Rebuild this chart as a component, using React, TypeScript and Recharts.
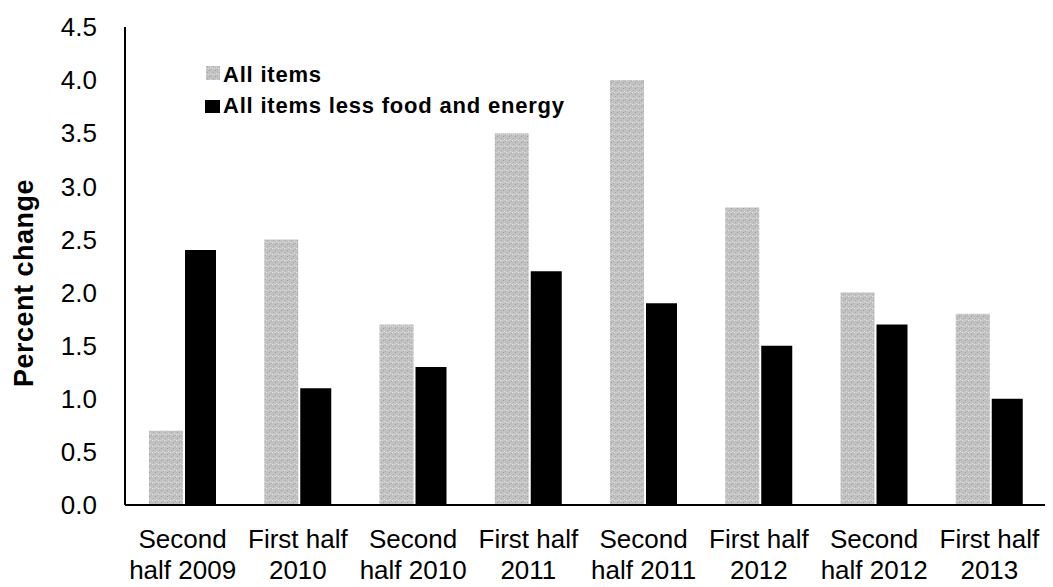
import React from "react";
import { BarChart, Bar, XAxis, YAxis } from "recharts";

const categories = [
  "Second\nhalf 2009",
  "First half\n2010",
  "Second\nhalf 2010",
  "First half\n2011",
  "Second\nhalf 2011",
  "First half\n2012",
  "Second\nhalf 2012",
  "First half\n2013",
];
const allItems = [0.7, 2.5, 1.7, 3.5, 4.0, 2.8, 2.0, 1.8];
const coreItems = [2.4, 1.1, 1.3, 2.2, 1.9, 1.5, 1.7, 1.0];
const yTicks = [0, 0.5, 1, 1.5, 2, 2.5, 3, 3.5, 4, 4.5];
const seriesNames = ["All items", "All items less food and energy"];
const yAxisTitle = "Percent change";

const data = categories.map((c, i) => ({ name: c, all: allItems[i], core: coreItems[i] }));

const FONT = "Arial, 'Liberation Sans', sans-serif";

const XTick = (props: any) => {
  const { x, y, payload } = props;
  const lines = String(payload.value).split("\n");
  return (
    <text x={x} y={y} textAnchor="middle" fontFamily={FONT} fontSize={26} fill="#000">
      {lines.map((l, i) => (
        <tspan key={i} x={x} dy={i === 0 ? 35 : 31}>{l}</tspan>
      ))}
    </text>
  );
};

const LegendBox = () => (
  <g fontFamily={FONT} fontSize={22} fontWeight="bold" fill="#000" letterSpacing={0.8}>
    <rect x={198} y={58} width={14} height={14} fill="url(#grain)" />
    <text x={215} y={74}>{seriesNames[0]}</text>
    <rect x={197} y={92} width={15} height={13} fill="#000" />
    <text x={215} y={105}>{seriesNames[1]}</text>
  </g>
);

const YTitle = () => (
  <text
    x={0}
    y={0}
    transform="translate(25,275) rotate(-90)"
    textAnchor="middle"
    fontFamily={FONT}
    fontSize={27}
    fontWeight="bold"
    letterSpacing={0.5}
    fill="#000"
  >
    {yAxisTitle}
  </text>
);

export default function App() {
  return (
    <BarChart
      width={1045}
      height={579}
      data={data}
      margin={{ top: 19, right: 6, bottom: 0, left: 37 }}
      barCategoryGap="20%"
      barGap={2}
    >
      <defs>
        <pattern id="grain" width="6" height="6" patternUnits="userSpaceOnUse">
          <rect width="6" height="6" fill="#c2c2c2" />
          <rect x="0" y="0" width="1" height="1" fill="#e8e8e8" />
          <rect x="3" y="2" width="1" height="1" fill="#999" />
          <rect x="1" y="4" width="1" height="1" fill="#a8a8a8" />
          <rect x="4" y="5" width="1" height="1" fill="#e0e0e0" />
          <rect x="5" y="1" width="1" height="1" fill="#b0b0b0" />
          <rect x="2" y="0" width="1" height="1" fill="#d6d6d6" />
        </pattern>
      </defs>
      <XAxis
        dataKey="name"
        interval={0}
        height={82}
        tick={<XTick />}
        tickLine={false}
        axisLine={{ stroke: "#000", strokeWidth: 2 }}
      />
      <XAxis
        xAxisId="top"
        orientation="top"
        dataKey="name"
        height={0}
        tick={false}
        tickLine={false}
        axisLine={{ stroke: "#333", strokeWidth: 1, strokeDasharray: "6 1" }}
      />
      <YAxis
        domain={[0, 4.5]}
        ticks={yTicks}
        width={80}
        tickFormatter={(v: number) => v.toFixed(1)}
        tick={{ fontFamily: FONT, fontSize: 26, fill: "#000" }}
        tickLine={false}
        tickSize={0}
        tickMargin={28}
        axisLine={{ stroke: "#000", strokeWidth: 2 }}
      />
      <YAxis
        yAxisId="right"
        orientation="right"
        width={0}
        domain={[0, 4.5]}
        tick={false}
        tickLine={false}
        axisLine={{ stroke: "#333", strokeWidth: 1.5, strokeDasharray: "6 1" }}
      />
      <Bar dataKey="all" name={seriesNames[0]} fill="url(#grain)" barSize={34} isAnimationActive={false} />
      <Bar dataKey="core" name={seriesNames[1]} fill="#000" barSize={31} isAnimationActive={false} />
      <LegendBox />
      <YTitle />
    </BarChart>
  );
}
